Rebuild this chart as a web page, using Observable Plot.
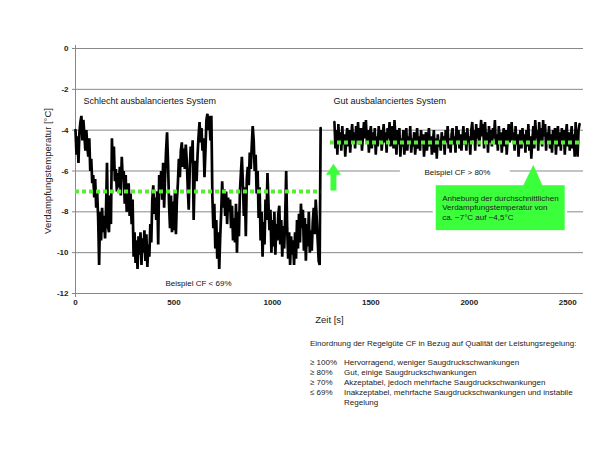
<!DOCTYPE html>
<html><head><meta charset="utf-8">
<script src="https://cdn.jsdelivr.net/npm/d3@7"></script>
<script src="https://cdn.jsdelivr.net/npm/@observablehq/plot@0.6"></script>
<style>
body{margin:0;background:#fff;}
#wrap{position:relative;width:611px;height:466px;overflow:hidden;}
#legend{position:absolute;left:310px;top:339px;font:8px "Liberation Sans",Arial,sans-serif;color:#222;line-height:10px;}
#legend .t{margin-bottom:9px;}
#legend .r{display:flex;}
#legend .s{width:34px;flex:none;}
</style></head><body><div id="wrap"><div id="legend"></div></div>
<script>
// ---- data ----
const sampleStep = 5;                 // s between samples
const badStart = 0;                   // s
const badValues = [
-4.0,-5.2,-4.3,-5.6,-4.1,-3.6,-3.3,-4.5,-3.5,-4.2,
-5.0,-4.0,-4.8,-5.3,-4.4,-6.0,-5.4,-6.6,-6.2,-7.3,
-6.4,-7.8,-7.0,-8.3,-10.6,-8.0,-9.4,-7.8,-9.0,-8.2,
-9.3,-7.9,-5.6,-8.7,-9.0,-7.2,-8.6,-4.4,-6.0,-4.8,
-6.5,-5.9,-7.0,-6.1,-6.8,-5.8,-7.2,-5.3,-6.4,-6.0,
-7.6,-6.2,-8.0,-7.3,-6.6,-8.2,-7.1,-8.6,-7.4,-10.2,
-9.0,-10.5,-9.4,-10.8,-9.2,-10.1,-9.0,-10.6,-9.3,-10.0,
-8.9,-10.4,-9.1,-10.7,-9.6,-10.2,-8.6,-9.5,-7.4,-6.7,
-8.1,-7.3,-8.4,-7.0,-9.6,-6.2,-7.1,-6.0,-7.4,-5.6,
-7.8,-6.3,-5.0,-4.1,-5.6,-7.6,-8.8,-7.2,-9.0,-7.5,
-8.9,-7.0,-9.1,-7.4,-6.6,-5.4,-6.3,-5.0,-4.6,-5.8,
-4.9,-5.9,-4.7,-5.5,-6.8,-7.9,-6.0,-4.8,-5.6,-4.5,
-8.4,-6.2,-5.5,-6.5,-5.2,-4.3,-3.6,-4.6,-3.9,-5.0,
-4.4,-6.3,-5.0,-3.5,-3.2,-4.0,-3.3,-4.5,-3.3,-7.2,
-8.8,-7.6,-9.8,-8.4,-10.3,-9.0,-10.8,-9.2,-8.0,-6.5,
-7.8,-6.9,-8.2,-7.0,-8.6,-7.3,-8.0,-7.4,-8.8,-7.7,
-9.4,-8.3,-9.5,-7.6,-10.0,-8.0,-9.2,-7.0,-6.1,-5.3,
-6.6,-8.2,-6.8,-9.2,-6.4,-5.8,-6.7,-5.1,-5.9,-4.8,
-3.8,-4.5,-6.0,-5.2,-7.1,-6.0,-8.3,-6.8,-9.4,-8.0,
-10.2,-8.5,-9.6,-7.4,-8.4,-6.1,-7.6,-8.9,-7.9,-10.0,
-8.4,-9.7,-8.0,-10.1,-8.6,-9.4,-8.1,-7.7,-9.6,-8.4,
-10.2,-8.7,-9.8,-8.2,-6.0,-8.8,-10.3,-9.0,-10.6,-9.2,
-10.1,-9.4,-10.6,-9.0,-10.3,-8.4,-9.8,-8.1,-9.5,-7.6,
-8.8,-7.9,-9.9,-8.3,-10.4,-8.6,-9.7,-8.0,-10.0,-8.9,
-9.9,-8.5,-7.8,-9.1,-7.4,-8.3,-9.4,-10.4,-10.6,-3.9
];
const goodStart = 1315;               // s
const goodValues = [
-3.6,-4.9,-4.0,-5.2,-3.7,-4.6,-4.1,-5.0,-3.8,-4.7,
-4.2,-5.3,-4.4,-3.9,-4.8,-4.0,-5.1,-4.3,-3.7,-4.6,
-4.1,-4.9,-3.8,-4.5,-3.6,-4.7,-4.2,-3.9,-5.0,-4.3,
-3.6,-4.4,-3.5,-4.6,-4.0,-5.1,-4.2,-3.8,-4.9,-4.1,
-4.7,-3.9,-5.2,-4.3,-4.8,-3.8,-4.5,-4.0,-5.0,-4.4,
-3.7,-4.6,-4.1,-5.1,-3.9,-4.4,-3.6,-4.8,-4.2,-3.8,
-4.9,-3.5,-4.3,-5.2,-4.0,-4.7,-3.9,-5.3,-4.4,-4.8,
-4.0,-5.2,-4.5,-3.9,-5.0,-4.3,-4.7,-3.8,-5.1,-4.4,
-4.8,-4.1,-5.2,-4.6,-3.9,-4.9,-4.3,-5.0,-4.0,-4.7,
-4.2,-5.3,-4.5,-4.1,-5.0,-4.4,-3.9,-4.8,-4.3,-5.2,
-4.6,-4.0,-5.1,-4.4,-5.4,-4.2,-4.8,-4.5,-5.0,-4.1,
-4.7,-4.3,-5.2,-4.0,-4.6,-3.8,-4.9,-4.4,-5.1,-4.2,
-3.9,-4.7,-4.3,-5.1,-3.8,-4.5,-4.0,-4.9,-4.2,-5.0,
-4.4,-3.8,-4.7,-4.1,-5.0,-3.9,-4.6,-4.3,-5.2,-4.0,
-3.6,-4.5,-4.0,-5.0,-3.7,-4.4,-3.9,-4.8,-4.2,-3.5,
-4.3,-3.7,-4.9,-3.6,-4.5,-4.1,-5.1,-3.8,-4.6,-4.0,
-4.8,-3.9,-4.4,-3.5,-4.7,-4.2,-5.0,-3.8,-4.6,-4.1,
-5.1,-4.3,-3.9,-4.8,-4.0,-5.2,-4.4,-3.7,-4.6,-4.2,
-3.6,-4.5,-4.1,-5.0,-3.8,-4.7,-4.2,-5.3,-4.4,-4.0,
-4.9,-3.9,-4.6,-4.2,-5.1,-4.0,-4.8,-3.7,-5.0,-4.3,
-5.4,-4.5,-3.8,-4.9,-3.5,-4.4,-4.0,-5.0,-3.6,-4.6,
-3.9,-4.8,-3.5,-4.3,-3.7,-5.0,-4.1,-4.6,-3.8,-4.9,
-4.2,-5.1,-4.0,-4.7,-3.9,-5.2,-4.3,-3.8,-4.8,-4.1,
-5.0,-3.9,-4.5,-4.0,-5.2,-4.3,-3.7,-4.8,-4.1,-5.0,
-4.4,-3.8,-4.9,-4.2,-5.3,-3.6,-4.7,-5.3,-4.0,-3.7
];
// average levels (dotted green lines)
const avgBad = -7;   const avgBadRange = [0, 1245];
const avgGood = -4.6; const avgGoodRange = [1295, 2563];
// axis ticks
const xTicks = [0, 500, 1000, 1500, 2000, 2500];
const yTicks = [0, -2, -4, -6, -8, -10, -12];
// text labels
const annotations = [
  {t: 40,   v: -2.6,  text: "Schlecht ausbalanciertes System", size: 9},
  {t: 1310, v: -2.6,  text: "Gut ausbalanciertes System", size: 9},
  {t: 457,  v: -11.5, text: "Beispiel CF < 69%", size: 8},
  {t: 1772, v: -6.08, text: "Beispiel CF > 80%", size: 8}
];
const calloutLines = ["Anhebung der durchschnittlichen", "Verdampfungstemperatur von", "ca. \u22127\u00b0C auf \u22124,5\u00b0C"];
const calloutBox = {x1: 1832, x2: 2487, y1: -6.72, y2: -8.92};
const calloutPointer = [{t: 2272, v: -6.75}, {t: 2325, v: -5.69}, {t: 2373, v: -6.75}];
const upArrow = [
  {t: 1295, v: -6.96}, {t: 1295, v: -6.18}, {t: 1272, v: -6.18}, {t: 1310, v: -5.64},
  {t: 1348, v: -6.18}, {t: 1325, v: -6.18}, {t: 1325, v: -6.96}
];
const legendTitle = "Einordnung der Regelgüte CF in Bezug auf Qualität der Leistungsregelung:";
const legendSymbols = ["\u2265 100%", "\u2265 80%", "\u2265 70%", "\u2264 69%"];
const legendTexts = [
  "Hervorragend, weniger Saugdruckschwankungen",
  "Gut, einige Saugdruckschwankungen",
  "Akzeptabel, jedoch mehrfache Saugdruckschwankungen",
  "Inakzeptabel, mehrfache Saugdruckschwankungen und instabile<br>Regelung"
];

// ---- build ----
const bad = badValues.map((v, i) => ({t: badStart + i * sampleStep, v}));
const good = goodValues.map((v, i) => ({t: goodStart + i * sampleStep, v}));
const FONT = "'Liberation Sans', Arial, sans-serif";
const GREEN = "#3cff3c";
const DOT = "#55ee33";
const GRID = "#888";

const chart = Plot.plot({
  width: 611, height: 466,
  marginLeft: 75, marginRight: 28, marginTop: 48, marginBottom: 173,
  x: {domain: [0, 2580]},
  y: {domain: [-12, 0]},
  style: {fontFamily: FONT, background: "white", color: "#222"},
  marks: [
    Plot.gridY(yTicks, {stroke: GRID, strokeOpacity: 1, strokeWidth: 1}),
    Plot.rect([0], {x1: 1650, x2: 2208, y1: -5.8, y2: -6.35, fill: "white"}),
    Plot.rect([0], {x1: calloutBox.x1 - 15, x2: calloutBox.x2 + 12, y1: -7.9, y2: -8.1, fill: "white"}),
    Plot.ruleX([0], {y1: 0.15, y2: -12.2, stroke: GRID}),
    Plot.axisY(yTicks, {tickSize: 3, tickPadding: 4, fontWeight: "bold", fontSize: 8, stroke: GRID, label: null, tickFormat: d => d === 0 ? "0" : String(d)}),
    Plot.axisX(xTicks, {tickSize: 0, tickPadding: 6, fontWeight: "bold", fontSize: 8, label: null, tickFormat: d => String(d)}),
    Plot.line(bad, {x: "t", y: "v", stroke: "black", strokeWidth: 2.7, strokeLinejoin: "miter"}),
    Plot.line(good, {x: "t", y: "v", stroke: "black", strokeWidth: 2.6, strokeLinejoin: "miter"}),
    Plot.ruleY([avgBad], {x1: avgBadRange[0], x2: avgBadRange[1], stroke: DOT, strokeWidth: 4, strokeDasharray: "4,3"}),
    Plot.ruleY([avgGood], {x1: avgGoodRange[0], x2: avgGoodRange[1], stroke: DOT, strokeWidth: 4, strokeDasharray: "4,3"}),
    Plot.rect([calloutBox], {x1: "x1", x2: "x2", y1: "y1", y2: "y2", fill: GREEN}),
    Plot.line(calloutPointer, {x: "t", y: "v", fill: GREEN, stroke: "none"}),
    Plot.line(upArrow, {x: "t", y: "v", fill: GREEN, stroke: "none"}),
    Plot.text(calloutLines, {x: 1862, y: (d, i) => -7.35 - i * 0.45, text: d => d, textAnchor: "start", fontSize: 8, fill: "#222"}),
    Plot.text(annotations, {x: "t", y: "v", text: "text", textAnchor: "start", fontSize: d => d.size, fill: "#111"}),
    Plot.text(["Verdampfungstemperatur [°C]"], {frameAnchor: "left", textAnchor: "middle", rotate: -90, dx: -28, fontSize: 9.5, fill: "#222"}),
    Plot.text(["Zeit [s]"], {frameAnchor: "bottom", dy: 29, fontSize: 9.5, fill: "#222"})
  ]
});
const wrap = document.getElementById("wrap");
wrap.insertBefore(chart, wrap.firstChild);

const lg = document.getElementById("legend");
lg.innerHTML = `<div class="t">${legendTitle}</div>` +
  legendSymbols.map((s, i) => `<div class="r"><div class="s">${s}</div><div>${legendTexts[i]}</div></div>`).join("");
</script>
</body></html>
